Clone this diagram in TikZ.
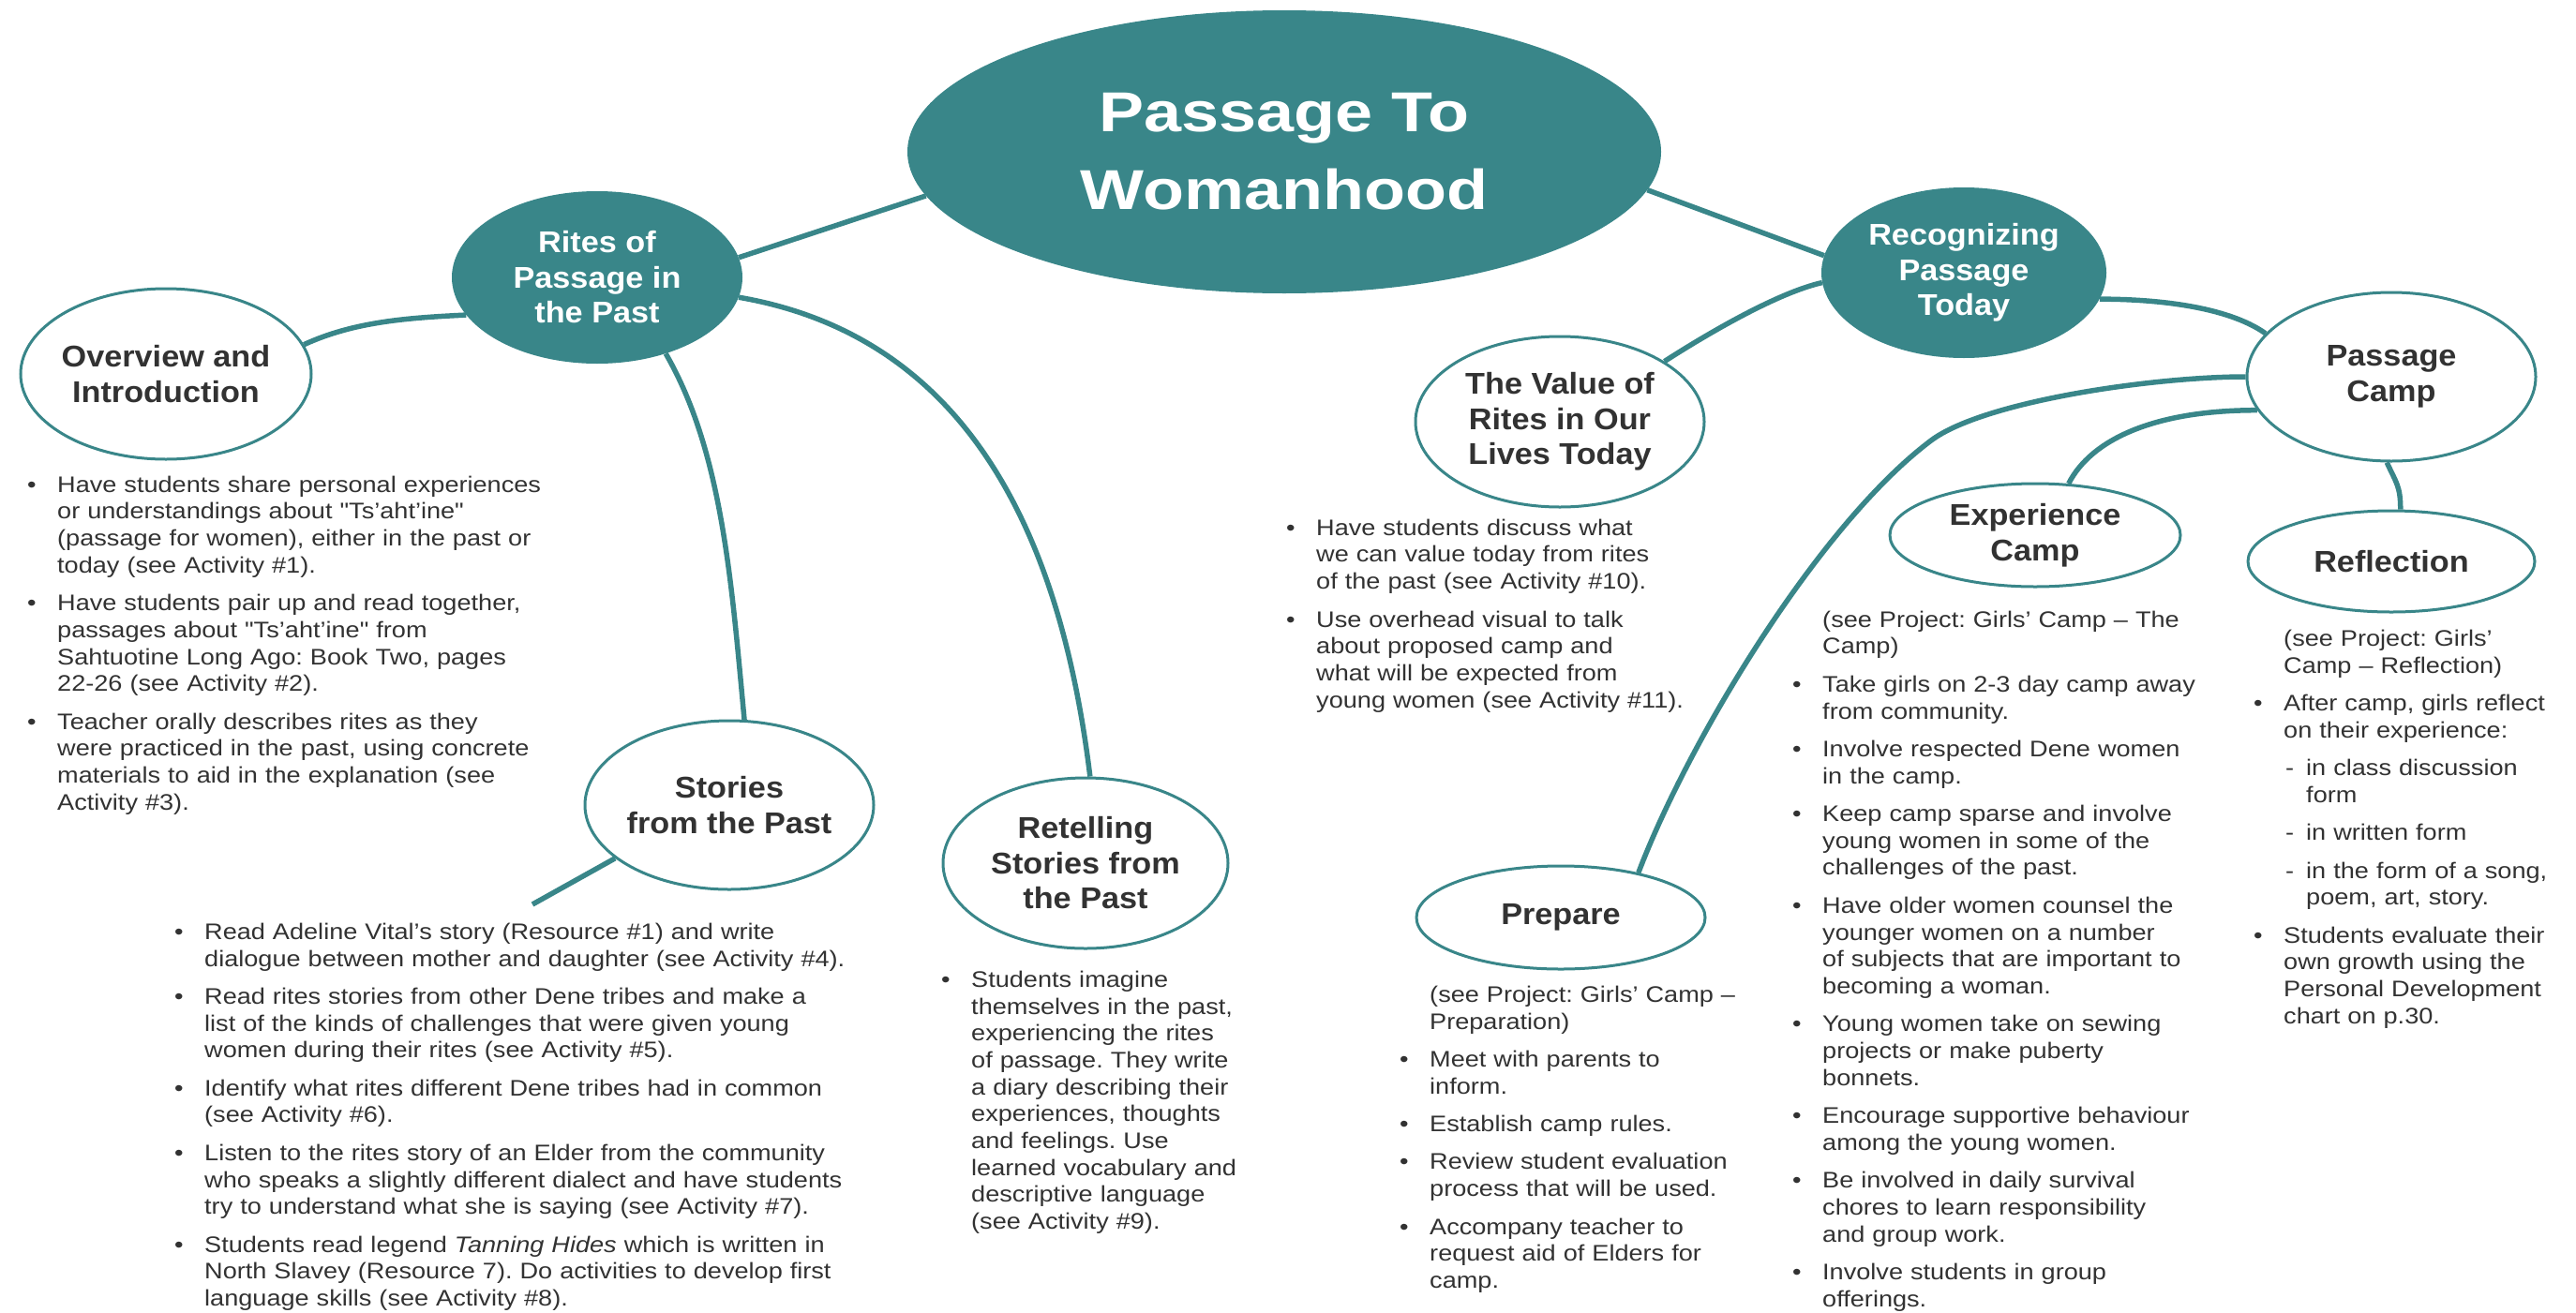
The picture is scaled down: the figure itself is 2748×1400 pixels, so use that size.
\documentclass[tikz,border=0pt]{standalone}
\usepackage{fontspec}
\usetikzlibrary{shapes.geometric}
\setmainfont{Liberation Sans}
\newfontfamily\bodyfam[FakeStretch=1.13]{Liberation Sans}
\newfontfamily\headfam[FakeStretch=1.07]{Liberation Sans}
\newfontfamily\titlefam[FakeStretch=1.2]{Liberation Sans}
\definecolor{tealc}{RGB}{57,134,137}
\definecolor{ink}{RGB}{50,50,50}
\newcommand\bodyf{\bodyfam\fontsize{24}{28.7}\selectfont\frenchspacing}
\newcommand\headf{\headfam\bfseries\fontsize{32}{37.5}\selectfont}
\newcommand\titlef{\titlefam\bfseries\fontsize{60}{83}\selectfont}
\newcommand\bu{\leavevmode\llap{\makebox[32pt][l]{\textbullet}}}
\newcommand\dsh{\leavevmode\makebox[24pt][l]{\hspace{2pt}-}}
\newcommand\gap{\\[11.7pt]}
\tikzset{
  ell/.style={ellipse, draw=tealc, line width=3pt, fill=white, inner xsep=-60pt,
    inner ysep=-8pt, align=center, font=\headf, text=ink},
  fell/.style={ellipse, fill=tealc, inner xsep=-60pt, inner ysep=-8pt,
    align=center, font=\headf, text=white},
  conn/.style={draw=tealc, line width=5.5pt},
  txt/.style={anchor=north west, inner sep=0pt, align=left, text width=900pt,
    font=\bodyf, text=ink}
}
\begin{document}
\begin{tikzpicture}[x=1pt,y=-1pt]
\useasboundingbox (0,0) rectangle (2748,1400);

% ---------- nodes ----------
\node[ellipse, fill=tealc, inner sep=0pt, minimum width=804pt, minimum height=302pt,
  align=center, font=\titlef, text=white] (title) at (1370,162) {Passage To\\Womanhood};

\node[fell, minimum width=310pt, minimum height=184pt] (rites) at (637,296)
  {Rites of\\Passage in\\the Past};
\node[fell, minimum width=304pt, minimum height=182pt] (recog) at (2095,291)
  {Recognizing\\Passage\\Today};

\node[ell, minimum width=310pt, minimum height=182pt] (overview) at (177,399)
  {Overview and\\Introduction};
\node[ell, minimum width=308pt, minimum height=180pt] (stories) at (778,859)
  {Stories\\from the Past};
\node[ell, minimum width=304pt, minimum height=182pt] (retell) at (1158,921)
  {Retelling\\Stories from\\the Past};
\node[ell, minimum width=308pt, minimum height=182pt] (value) at (1664,450)
  {The Value of\\Rites in Our\\Lives Today};
\node[ell, minimum width=308pt, minimum height=180pt] (pcamp) at (2551,402)
  {Passage\\Camp};
\node[ell, minimum width=310pt, minimum height=110pt] (expcamp) at (2171,571)
  {Experience\\Camp};
\node[ell, minimum width=306pt, minimum height=108pt] (reflect) at (2551,599)
  {Reflection};
\node[ell, minimum width=308pt, minimum height=110pt] (prepare) at (1665,979)
  {Prepare};

\coordinate (tailend) at (568,965);

% ---------- connectors ----------
\draw[conn] (title.187) -- (rites.8);
\draw[conn] (title.-6) -- (recog.173);
\draw[conn] (rites.196) .. controls +(-60,3) and +(54,-25) .. (overview.12);
\draw[conn] (rites.-48) .. controls +(60,104) and +(-14,-150) .. (stories.80);
\draw[conn] (rites.-8) .. controls +(256,44) and +(-29,-238) .. (retell.87);
\draw[conn] (stories.205) -- (tailend);
\draw[conn] (recog.184) .. controls +(-49,11) and +(42,-27) .. (value.30);
\draw[conn] (recog.-11) .. controls +(60,0) and +(-41,-29) .. (pcamp.161);
\draw[conn] (pcamp.180) .. controls +(-98,0) and (2116,428) .. (2060,470)
  .. controls (1940,560) and +(53,-140) .. (prepare.30);
\draw[conn] (pcamp.194) .. controls +(-110,0) and +(24,-47) .. (expcamp.57);
\draw[conn] (pcamp.-93) .. controls +(10,22) and +(0,-25) .. (reflect.80);

% ---------- text blocks ----------
\node[txt] (tOverview) at (61,505) {\strut\bu Have students share personal experiences\\
or understandings about "Ts’aht’ine"\\
(passage for women), either in the past or\\
today (see Activity \#1).\gap
\bu Have students pair up and read together,\\
passages about "Ts’aht’ine" from\\
Sahtuotine Long Ago: Book Two, pages\\
22-26 (see Activity \#2).\gap
\bu Teacher orally describes rites as they\\
were practiced in the past, using concrete\\
materials to aid in the explanation (see\\
Activity \#3).};

\node[txt] (tStories) at (218,982) {\strut\bu Read Adeline Vital’s story (Resource \#1) and write\\
dialogue between mother and daughter (see Activity \#4).\gap
\bu Read rites stories from other Dene tribes and make a\\
list of the kinds of challenges that were given young\\
women during their rites (see Activity \#5).\gap
\bu Identify what rites different Dene tribes had in common\\
(see Activity \#6).\gap
\bu Listen to the rites story of an Elder from the community\\
who speaks a slightly different dialect and have students\\
try to understand what she is saying (see Activity \#7).\gap
\bu Students read legend \textit{Tanning Hides} which is written in\\
North Slavey (Resource 7). Do activities to develop first\\
language skills (see Activity \#8).};

\node[txt] (tRetell) at (1036,1033) {\strut\bu Students imagine\\
themselves in the past,\\
experiencing the rites\\
of passage. They write\\
a diary describing their\\
experiences, thoughts\\
and feelings. Use\\
learned vocabulary and\\
descriptive language\\
(see Activity \#9).};

\node[txt] (tValue) at (1404,551) {\strut\bu Have students discuss what\\
we can value today from rites\\
of the past (see Activity \#10).\gap
\bu Use overhead visual to talk\\
about proposed camp and\\
what will be expected from\\
young women (see Activity \#11).};

\node[txt] (tPrepare) at (1525,1049) {\strut(see Project: Girls’ Camp –\\
Preparation)\gap
\bu Meet with parents to\\
inform.\gap
\bu Establish camp rules.\gap
\bu Review student evaluation\\
process that will be used.\gap
\bu Accompany teacher to\\
request aid of Elders for\\
camp.};

\node[txt] (tExp) at (1944,649) {\strut(see Project: Girls’ Camp – The\\
Camp)\gap
\bu Take girls on 2-3 day camp away\\
from community.\gap
\bu Involve respected Dene women\\
in the camp.\gap
\bu Keep camp sparse and involve\\
young women in some of the\\
challenges of the past.\gap
\bu Have older women counsel the\\
younger women on a number\\
of subjects that are important to\\
becoming a woman.\gap
\bu Young women take on sewing\\
projects or make puberty\\
bonnets.\gap
\bu Encourage supportive behaviour\\
among the young women.\gap
\bu Be involved in daily survival\\
chores to learn responsibility\\
and group work.\gap
\bu Involve students in group\\
offerings.};

\node[txt] (tReflect) at (2436,669) {\strut(see Project: Girls’\\
Camp – Reflection)\gap
\bu After camp, girls reflect\\
on their experience:\gap
\dsh in class discussion\\
\hspace*{24pt}form\gap
\dsh in written form\gap
\dsh in the form of a song,\\
\hspace*{24pt}poem, art, story.\gap
\bu Students evaluate their\\
own growth using the\\
Personal Development\\
chart on p.30.};

\end{tikzpicture}
\end{document}
